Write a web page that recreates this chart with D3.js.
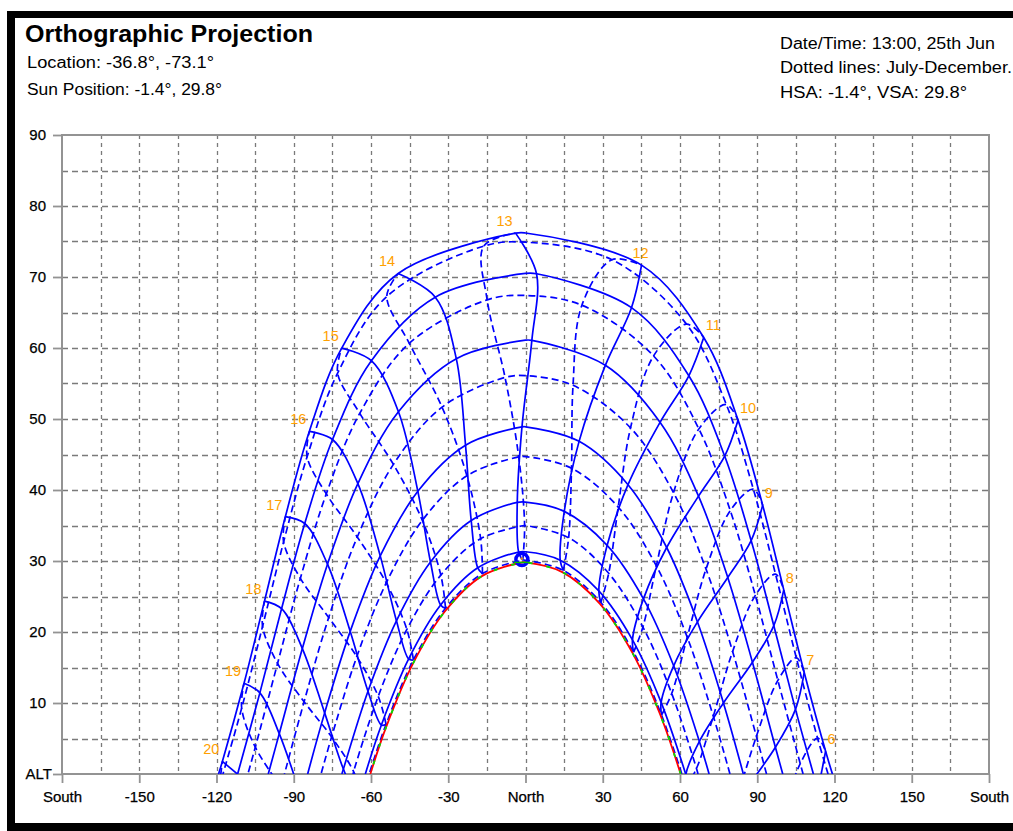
<!DOCTYPE html>
<html>
<head>
<meta charset="utf-8">
<title>Orthographic Projection</title>
<script src="https://cdn.jsdelivr.net/npm/d3@7"></script>
<style>
    html, body { margin: 0; padding: 0; background: #ffffff; }
    svg { display: block; font-family: "Liberation Sans", Arial, sans-serif; }
</style>
</head>
<body>
<div id="chart"></div>
<script>

// Hours marked on the diagram
const hours = [6, 7, 8, 9, 10, 11, 12, 13, 14, 15, 16, 17, 18, 19, 20];
const months = ['Jan', 'Feb', 'Mar', 'Apr', 'May', 'Jun', 'Jul', 'Aug', 'Sep', 'Oct', 'Nov', 'Dec'];

// Sun [azimuth, altitude] at each hour above, on the 1st of the month (null = sun well below the horizon)
const janPositions = [[116.55, 3.20], [108.24, 14.30], [100.30, 25.93], [92.10, 37.86], [82.54, 49.84], [69.21, 61.48], [45.07, 71.67], [-3.85, 76.18], [-49.44, 70.50], [-71.37, 59.98], [-83.95, 48.25], [-93.24, 36.26], [-101.36, 24.35], [-109.31, 12.78], [-117.72, 1.77]];
const febPositions = [[113.63, -2.24], [104.85, 9.10], [96.43, 20.89], [87.63, 32.88], [77.34, 44.78], [63.43, 56.09], [41.16, 65.68], [4.29, 70.46], [-35.03, 67.16], [-59.86, 58.21], [-74.95, 47.11], [-85.73, 35.28], [-94.73, 23.28], [-103.16, 11.43], [-111.82, -0.02]];
const marPositions = [null, [97.05, 3.77], [88.13, 15.75], [78.55, 27.67], [67.19, 39.14], [52.24, 49.53], [31.01, 57.56], [2.46, 61.08], [-26.88, 58.50], [-49.34, 51.03], [-65.10, 40.90], [-76.89, 29.55], [-86.66, 17.67], [-95.63, 5.68], null];
const aprPositions = [null, [86.02, -1.86], [76.87, 10.01], [66.79, 21.42], [54.83, 31.90], [39.81, 40.75], [20.81, 46.85], [-1.37, 48.89], [-23.29, 46.31], [-41.81, 39.81], [-56.41, 30.72], [-68.08, 20.09], [-78.00, 8.61], [-87.09, -3.29], null];
const mayPositions = [null, null, [67.53, 4.59], [57.54, 15.24], [45.81, 24.67], [31.71, 32.21], [15.06, 36.99], [-3.20, 38.25], [-21.09, 35.70], [-36.90, 29.86], [-50.12, 21.58], [-61.17, 11.66], [-70.72, 0.70], null, null];
const junPositions = [null, null, [62.27, -0.04], [52.67, 10.09], [41.54, 18.90], [28.47, 25.80], [13.48, 30.12], [-2.66, 31.26], [-18.55, 29.04], [-32.97, 23.80], [-45.38, 16.20], [-55.96, 6.90], [-65.15, -3.55], null, null];
const julPositions = [null, null, [62.21, -1.83], [52.82, 8.30], [41.97, 17.15], [29.26, 24.15], [14.69, 28.66], [-1.06, 30.09], [-16.72, 28.23], [-31.06, 23.35], [-43.52, 16.06], [-54.15, 7.01], [-63.38, -3.26], null, null];
const augPositions = [null, null, [66.40, 0.78], [56.78, 11.34], [45.59, 20.70], [32.31, 28.27], [16.76, 33.28], [-0.35, 35.00], [-17.42, 33.14], [-32.88, 28.01], [-46.07, 20.37], [-57.19, 10.94], [-66.76, 0.34], null, null];
const sepPositions = [null, [82.05, -3.57], [72.93, 8.14], [62.81, 19.27], [50.81, 29.32], [36.00, 37.59], [17.87, 43.06], [-2.64, 44.66], [-22.76, 42.00], [-40.07, 35.72], [-54.08, 26.91], [-65.52, 16.53], [-75.30, 5.22], null, null];
const octPositions = [[98.69, -6.67], [89.66, 5.30], [80.43, 17.25], [70.11, 28.86], [57.48, 39.63], [40.79, 48.75], [18.46, 54.74], [-7.94, 55.85], [-32.42, 51.67], [-51.29, 43.61], [-65.33, 33.38], [-76.43, 22.04], [-85.98, 10.18], [-94.99, -1.82], null];
const novPositions = [[106.70, 1.46], [98.01, 13.18], [89.26, 25.16], [79.53, 37.10], [67.33, 48.61], [49.73, 58.88], [21.90, 66.03], [-14.89, 66.78], [-45.14, 60.66], [-64.37, 50.80], [-77.36, 39.45], [-87.43, 27.56], [-96.29, 15.57], [-104.93, 3.77], null];
const decPositions = [[113.43, 5.04], [105.16, 16.37], [97.10, 28.14], [88.47, 40.13], [77.98, 52.05], [62.52, 63.36], [33.58, 72.43], [-16.23, 74.35], [-53.87, 67.25], [-72.97, 56.46], [-84.81, 44.68], [-93.94, 32.69], [-102.11, 20.80], [-110.22, 9.28], [-118.91, -1.64]];

const monthPositions = [janPositions, febPositions, marPositions, aprPositions, mayPositions, junPositions,
    julPositions, augPositions, sepPositions, octPositions, novPositions, decPositions];

// Sunrise azimuth (sunset is the mirror) and noon altitude for each month line
const sunriseAzimuth = [119.2, 111.8, 99.9, 84.6, 71.3, 62.2, 60.7, 67.0, 79.4, 93.6, 107.8, 117.5];
const noonAltitude = [76.2, 70.5, 61.1, 48.9, 38.3, 31.3, 30.1, 35.0, 44.7, 56.1, 67.4, 74.9];

// Sun path of the selected day (25th Jun)
const currentDay = [[60.26, 0], [52.41, 8.27], [41.54, 17.06], [28.84, 24.00], [14.31, 28.43], [0, 29.80], [-1.37, 29.79],
    [-16.94, 27.87], [-31.18, 22.95], [-43.56, 15.65], [-54.13, 6.60], [-60.26, 0]];
const sunPosition = [-1.4, 29.8];

// Axis ticks
const xTicks = [-180, -150, -120, -90, -60, -30, 0, 30, 60, 90, 120, 150, 180];
const xTickLabels = ['South', '-150', '-120', '-90', '-60', '-30', 'North', '30', '60', '90', '120', '150', 'South'];
const yTicks = [0, 10, 20, 30, 40, 50, 60, 70, 80, 90];
const yTickLabels = ['ALT', '10', '20', '30', '40', '50', '60', '70', '80', '90'];

class SunPathChart {

    constructor(parentDivID) {
        const vis = this;
        vis.parentDivID = '#' + parentDivID;
        vis.initVis();
    }

    initVis() {
        const vis = this;

        vis.totalWidth = 1013;
        vis.totalHeight = 831;
        vis.margin = {top: 135, right: 24, bottom: 57, left: 62};
        vis.width = vis.totalWidth - vis.margin.left - vis.margin.right;
        vis.height = vis.totalHeight - vis.margin.top - vis.margin.bottom;

        vis.svgRoot = d3.select(vis.parentDivID).append('svg')
            .attr('width', vis.totalWidth)
            .attr('height', vis.totalHeight);

        // Black frame around the picture
        vis.svgRoot.append('rect').attr('x', 7).attr('y', 11).attr('width', 1006).attr('height', 7).attr('fill', '#000');
        vis.svgRoot.append('rect').attr('x', 7).attr('y', 11).attr('width', 8).attr('height', 820).attr('fill', '#000');
        vis.svgRoot.append('rect').attr('x', 7).attr('y', 823).attr('width', 1006).attr('height', 8).attr('fill', '#000');

        // Header texts
        const header = [
            {text: 'Orthographic Projection', x: 25, y: 41.5, size: 23, bold: true, len: 288},
            {text: 'Location: -36.8°, -73.1°', x: 27, y: 68, size: 16, len: 187},
            {text: 'Sun Position: -1.4°, 29.8°', x: 27, y: 95, size: 16, len: 195},
            {text: 'Date/Time: 13:00, 25th Jun', x: 780, y: 48.5, size: 16, len: 215},
            {text: 'Dotted lines: July-December.', x: 780, y: 73, size: 16, len: 232},
            {text: 'HSA: -1.4°, VSA: 29.8°', x: 780, y: 97.5, size: 16, len: 187}
        ];
        vis.svgRoot.selectAll('.header')
            .data(header)
            .enter().append('text')
            .attr('class', 'header')
            .attr('x', d => d.x)
            .attr('y', d => d.y)
            .attr('textLength', d => d.len)
            .attr('lengthAdjust', 'spacingAndGlyphs')
            .style('font-size', d => d.size + 'px')
            .style('font-weight', d => d.bold ? 'bold' : 'normal')
            .attr('fill', '#000')
            .text(d => d.text);

        vis.svg = vis.svgRoot.append('g')
            .attr('transform', 'translate(' + vis.margin.left + ',' + vis.margin.top + ')');

        // Scales: azimuth (east positive, to the right) and altitude
        vis.x = d3.scaleLinear().domain([-180, 180]).range([0, vis.width]);
        vis.y = d3.scaleLinear().domain([0, 90]).range([vis.height, 0]);

        vis.drawGrid();
        vis.drawAxes();
        vis.drawSunPaths();
    }

    drawGrid() {
        const vis = this;
        const grid = vis.svg.append('g').attr('class', 'grid');

        grid.selectAll('.v-grid')
            .data(d3.range(-165, 180, 15))
            .enter().append('line')
            .attr('x1', d => Math.round(vis.x(d)) + 0.5)
            .attr('x2', d => Math.round(vis.x(d)) + 0.5)
            .attr('y1', 0)
            .attr('y2', vis.height)
            .attr('stroke', '#7a7a7a')
            .attr('stroke-width', 1.3)
            .attr('stroke-dasharray', '4,4');

        grid.selectAll('.h-grid')
            .data(d3.range(5, 90, 5))
            .enter().append('line')
            .attr('x1', 0)
            .attr('x2', vis.width)
            .attr('y1', d => Math.round(vis.y(d)) + 0.5)
            .attr('y2', d => Math.round(vis.y(d)) + 0.5)
            .attr('stroke', '#7a7a7a')
            .attr('stroke-width', 1.3)
            .attr('stroke-dasharray', '6,4');

        vis.svg.append('rect')
            .attr('width', vis.width)
            .attr('height', vis.height)
            .attr('fill', 'none')
            .attr('stroke', '#939393')
            .attr('stroke-width', 2);
    }

    drawAxes() {
        const vis = this;

        vis.xAxis = d3.axisBottom(vis.x)
            .tickValues(xTicks)
            .tickFormat((d, i) => xTickLabels[i])
            .tickSize(9)
            .tickPadding(8);
        vis.yAxis = d3.axisLeft(vis.y)
            .tickValues(yTicks)
            .tickFormat((d, i) => yTickLabels[i])
            .tickSize(9)
            .tickPadding(7);

        vis.xAxisGroup = vis.svg.append('g')
            .attr('class', 'x-axis axis')
            .attr('transform', 'translate(0,' + vis.height + ')')
            .call(vis.xAxis);
        vis.yAxisGroup = vis.svg.append('g')
            .attr('class', 'y-axis axis')
            .call(vis.yAxis);

        [vis.xAxisGroup, vis.yAxisGroup].forEach(function(group) {
            group.select('.domain').remove();
            group.selectAll('.tick line').attr('stroke', '#939393').attr('stroke-width', 1.8);
            group.selectAll('.tick text')
                .attr('fill', '#000')
                .attr('stroke', '#000')
                .attr('stroke-width', 0.25)
                .style('font-size', '15px')
                .style('font-family', '"Liberation Sans", Arial, sans-serif');
        });

        // ALT label sits closer to its tick
        vis.yAxisGroup.selectAll('.tick text')
            .filter(d => d === 0)
            .attr('x', -10);
    }

    drawSunPaths() {
        const vis = this;

        vis.svg.append('clipPath')
            .attr('id', 'plot-clip')
            .append('rect')
            .attr('width', vis.width)
            .attr('height', vis.height);

        const paths = vis.svg.append('g').attr('clip-path', 'url(#plot-clip)');

        vis.line = d3.line()
            .x(d => vis.x(d[0]))
            .y(d => vis.y(d[1]))
            .curve(d3.curveCatmullRom.alpha(0.5));

        // Hour lines: solid January-June, dotted July-December
        const solidOrder = [0, 1, 2, 3, 4, 5, 6];
        const dottedOrder = [6, 7, 8, 9, 10, 11, 0];
        const hourLines = [];
        hours.forEach(function(hour, j) {
            hourLines.push({hour: hour, dotted: false, points: solidOrder.map(i => monthPositions[i][j]).filter(p => p)});
            hourLines.push({hour: hour, dotted: true, points: dottedOrder.map(i => monthPositions[i][j]).filter(p => p)});
        });

        // Date lines for the 1st of each month
        const dateLines = monthPositions.map(function(positions, i) {
            const points = positions.filter(p => p && p[1] >= 0)
                .concat([[sunriseAzimuth[i], 0], [0, noonAltitude[i]], [-sunriseAzimuth[i], 0]])
                .sort((a, b) => b[0] - a[0]);
            return {month: months[i], dotted: i >= 6, points: points};
        });

        paths.selectAll('.hour-line')
            .data(hourLines.filter(d => d.points.length > 1))
            .enter().append('path')
            .attr('class', 'hour-line')
            .attr('d', d => vis.line(d.points))
            .attr('fill', 'none')
            .attr('stroke', '#0000ff')
            .attr('stroke-width', 1.7)
            .attr('stroke-dasharray', d => d.dotted ? '7,4' : null);

        paths.selectAll('.date-line')
            .data(dateLines)
            .enter().append('path')
            .attr('class', 'date-line')
            .attr('d', d => vis.line(d.points))
            .attr('fill', 'none')
            .attr('stroke', '#0000ff')
            .attr('stroke-width', 1.7)
            .attr('stroke-dasharray', d => d.dotted ? '7,4' : null);

        // Selected day
        paths.append('path')
            .attr('d', vis.line(currentDay))
            .attr('fill', 'none')
            .attr('stroke', '#ff0000')
            .attr('stroke-width', 1.8);
        paths.append('path')
            .attr('d', vis.line(currentDay))
            .attr('fill', 'none')
            .attr('stroke', '#00e000')
            .attr('stroke-width', 1.8)
            .attr('stroke-dasharray', '4,14');

        // Hour labels along the January line
        vis.svg.selectAll('.hour-label')
            .data(hours.map((h, j) => ({hour: h, pos: janPositions[j]})))
            .enter().append('text')
            .attr('class', 'hour-label')
            .attr('x', function(d) {
                const px = vis.x(d.pos[0]);
                if (d.pos[0] > 60) return px + 2;
                if (d.pos[0] > 30) return px - 1;
                return px - 3;
            })
            .attr('y', d => vis.y(d.pos[1]) - 7)
            .attr('text-anchor', d => d.pos[0] > 60 ? 'start' : (d.pos[0] > 30 ? 'middle' : 'end'))
            .attr('fill', '#ffa000')
            .style('font-size', '14.5px')
            .text(d => d.hour);

        // Current sun position marker
        const sx = vis.x(sunPosition[0]);
        const sy = vis.y(sunPosition[1]) - 3;
        vis.svg.append('circle')
            .attr('cx', sx)
            .attr('cy', sy)
            .attr('r', 6)
            .attr('fill', 'none')
            .attr('stroke', '#0000ff')
            .attr('stroke-width', 3.5);
        vis.svg.append('line')
            .attr('x1', sx - 8).attr('x2', sx + 8)
            .attr('y1', sy + 3).attr('y2', sy + 3)
            .attr('stroke', '#00c000')
            .attr('stroke-width', 1.5);
        vis.svg.append('circle')
            .attr('cx', sx)
            .attr('cy', sy - 1)
            .attr('r', 1.5)
            .attr('fill', '#c08040');
    }
}

new SunPathChart('chart');
</script>
</body>
</html>
